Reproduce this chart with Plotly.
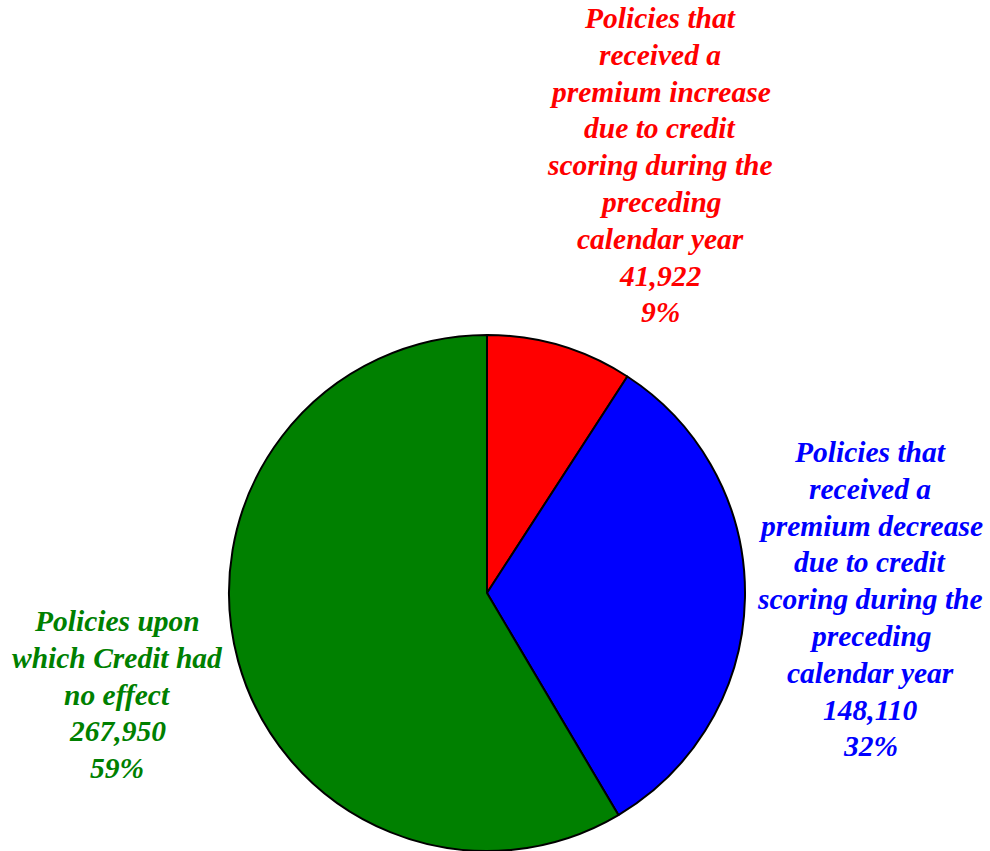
import plotly.graph_objects as go

labels = [
    ["Policies that", "received a", "premium increase", "due to credit",
     "scoring during the", "preceding", "calendar year"],
    ["Policies that", "received a", "premium decrease", "due to credit",
     "scoring during the", "preceding", "calendar year"],
    ["Policies upon", "which Credit had", "no effect"],
]
values = [41922, 148110, 267950]
colors = ["#FF0000", "#0000FF", "#008000"]
# label block placement in pixels (centre x, first-line centre y) - layout only
label_pos = [(660, 18), (870, 452), (117, 621)]
LINE_STEP = 36.8

total = sum(values)
W, H = 990, 851

fig = go.Figure(go.Pie(
    labels=[" ".join(l) for l in labels],
    values=values,
    marker=dict(colors=colors, line=dict(color="black", width=2)),
    sort=False,
    direction="clockwise",
    rotation=0,
    textinfo="none",
    hoverinfo="label+value+percent",
    showlegend=False,
    domain=dict(x=[229 / W, 745 / W], y=[0, 1 - 335 / H]),
))

for lab, v, c, (px, py) in zip(labels, values, colors, label_pos):
    pct = round(100 * v / total)
    lines = lab + [f"{v:,}", f"{pct}%"]
    for i, line in enumerate(lines):
        fig.add_annotation(
            x=px / W, y=1 - (py + i * LINE_STEP) / H, xref="paper", yref="paper",
            xanchor="center", yanchor="middle",
            text=line, showarrow=False, align="center",
            font=dict(family="Liberation Serif", size=29.5, color=c,
                      weight="bold", style="italic"),
        )

fig.update_layout(
    width=W, height=H, margin=dict(l=0, r=0, t=0, b=0),
    paper_bgcolor="white", plot_bgcolor="white",
)
fig.write_html("out.html")
